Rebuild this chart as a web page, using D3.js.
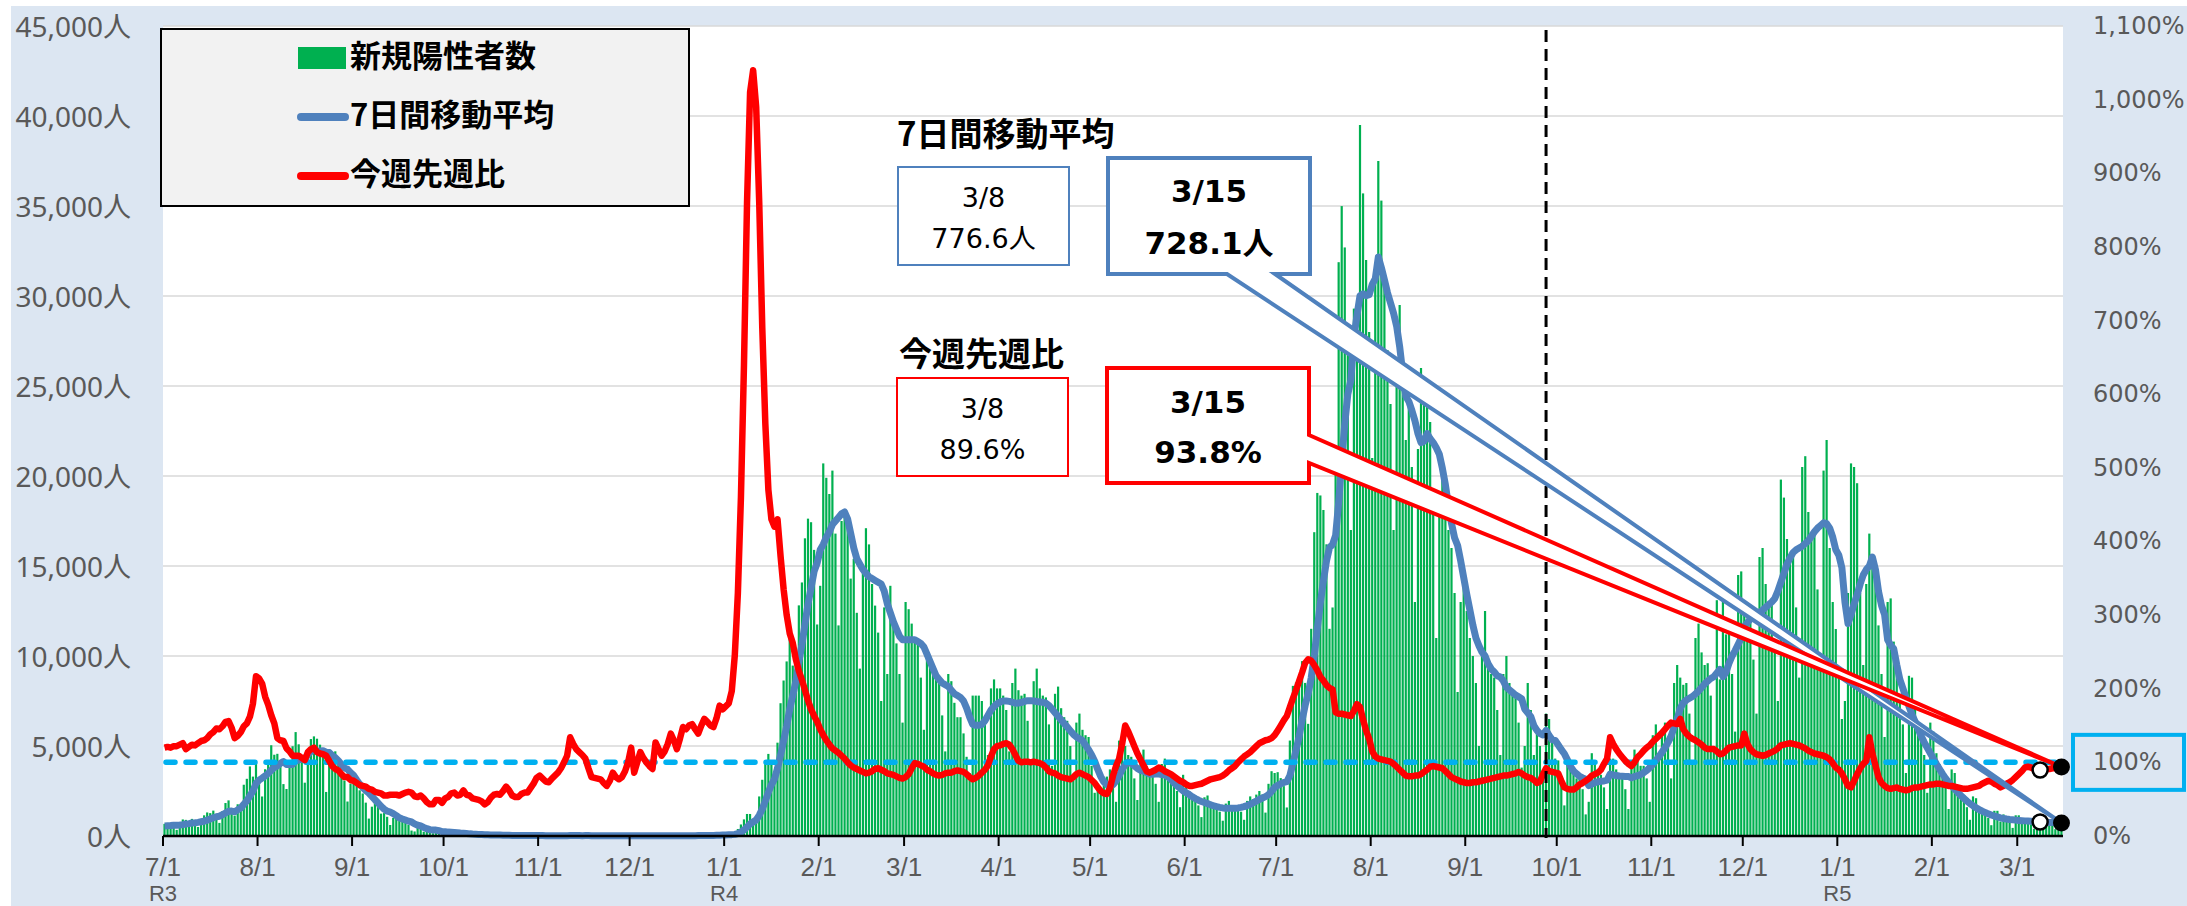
<!DOCTYPE html>
<html lang="ja">
<head>
<meta charset="utf-8">
<title>新規陽性者数・7日間移動平均・今週先週比</title>
<script src="https://cdn.jsdelivr.net/npm/d3@7"></script>
<style>
  html, body { margin: 0; padding: 0; background: #fff; }
  svg { display: block; }
</style>
</head>
<body>
<div id="chart"></div>
<script>
// one value per day, starting on startDay
const startDay = '2021-07-01';

const newCases = [
  // 2021-07
  673,660,716,518,342,593,920,896,822,950,614,502,830,1149,1308,1271,1410,1008,727,1387,1832,1979,1359,1128,1763,1429,2848,3177,3865,3300,4058,
  // 2021-08
  3058,2195,3709,4166,5042,4515,4566,4066,2884,2612,4200,4989,5773,5094,4295,2962,4377,5386,5534,5405,5074,4392,2447,4220,4228,4704,4227,3581,3081,1915,2909,
  // 2021-09
  3168,2913,2539,2362,1853,968,1629,1834,1675,1242,1273,1067,611,1004,1052,831,782,862,624,302,253,537,531,235,382,233,154,248,267,218,
  // 2021-10
  200,195,161,87,149,144,138,82,72,60,49,77,62,62,57,66,40,29,36,41,36,26,32,19,17,29,36,21,25,23,22,
  // 2021-11
  9,18,21,17,24,28,14,19,17,20,26,23,25,22,8,21,21,19,20,17,12,7,15,12,20,18,14,11,12,9,
  // 2021-12
  13,20,12,18,19,6,15,21,14,20,16,14,9,21,13,20,22,25,12,11,29,22,25,37,44,35,32,46,76,64,78,
  // 2022-01
  79,84,103,151,390,641,922,1224,1223,871,962,2198,3124,4051,4561,4172,3065,5185,7377,8638,9699,11227,9468,8503,12813,14086,16538,17631,17433,15895,11751,
  // 2022-02
  13900,20700,19900,19000,20300,16800,11700,17500,18100,17600,14300,15400,12400,9300,14900,17100,16200,14000,12800,11300,7500,12700,9000,13900,11800,10700,9000,6300,
  // 2022-03
  13000,12600,11800,10900,10700,8800,5900,10400,10000,9200,8800,8500,6700,4700,9000,8600,7400,6600,6600,5700,4400,3500,7800,7800,7800,7500,6500,4500,8200,8700,8200,
  // 2022-04
  8200,7800,7000,4700,8500,9300,8100,7800,7900,6400,4100,8600,9300,8200,7800,7700,6200,3900,7900,8300,7100,6600,6400,5000,3100,6300,6800,5900,5600,5500,
  // 2022-05
  3900,2400,2900,2500,3100,3300,3700,3100,1900,5300,5500,5000,4500,4400,3200,2000,4400,4800,3900,3600,3500,2900,1900,4000,4300,3600,3300,3300,2500,1600,3400,
  // 2022-06
  2900,2500,2250,2200,1700,1050,2150,2250,1900,1750,1700,1350,850,1800,1950,1700,1600,1650,1350,900,1950,2200,2050,2300,2500,2300,1300,2900,3600,3500,
  // 2022-07
  3546,3217,2771,1585,5302,8341,8529,8777,9716,8505,6231,11511,16878,19059,18919,18112,16205,11511,12696,20401,31878,34995,32698,27643,17000,29300,29000,39500,35700,32000,28000,
  // 2022-08
  21000,31500,37500,35300,31000,27000,24000,17000,26500,29500,25000,22000,25000,20500,13000,21500,26000,25500,25000,23000,19000,11000,19000,20500,19000,17000,16000,13500,8000,13000,14000,
  // 2022-09
  12500,11000,10000,8500,5000,10500,12500,9500,9000,8800,7000,4500,9000,10000,8500,8000,7800,6300,3800,5000,8500,7000,4500,6000,5000,3300,6800,6500,5300,4300,
  // 2022-10
  4200,3200,1700,4400,4000,3500,3200,3200,2600,1200,1900,4600,4000,3600,3400,2700,1500,4300,4300,3700,3400,3300,2600,1500,4000,4800,4200,3900,3900,3200,1900,
  // 2022-11
  5600,6200,4400,5900,6300,5200,3200,8500,9500,8800,8400,8500,6800,4000,11000,11800,10200,9500,9600,7800,4800,13100,8700,13400,11200,11500,9000,5800,14500,14700,
  // 2022-12
  12800,11800,12000,9800,6800,15500,16000,14000,12900,13000,10500,7500,19800,18800,16500,15400,15700,12700,8800,20500,21100,18000,16600,16900,13700,9500,20300,22000,16000,13000,11500,
  // 2023-01
  9000,6500,7500,13500,20700,20500,19600,13500,9500,14000,16800,15500,14000,11700,9000,5500,13000,13200,10800,9000,7900,6200,3500,8900,8800,7100,6300,5700,4500,2400,6300,
  // 2023-02
  5800,4600,4000,3700,2800,1500,3700,3500,2700,2300,2000,1600,900,2200,2100,1600,1400,1300,1000,600,1400,1400,800,1200,1100,800,450,1150,
  // 2023-03
  1150,950,900,850,650,400,1000,1050,850,800,800,620,380,900,950
];

const avg7 = [
  // 2021-07
  562,570,580,598,601,613,632,664,687,720,734,757,791,823,882,946,1012,1068,1100,1180,1278,1373,1386,1346,1454,1554,1763,1955,2224,2501,2920,
  // 2021-08
  3105,3214,3337,3479,3647,3820,3893,4037,4135,3979,3984,3976,4156,4231,4264,4275,4527,4697,4774,4722,4719,4733,4659,4637,4471,4353,4185,3971,3784,3708,3521,
  // 2021-09
  3369,3113,2872,2698,2523,2387,2205,2014,1837,1652,1496,1384,1333,1244,1132,1011,946,887,824,780,672,599,556,478,409,353,332,331,293,248,
  // 2021-10
  243,216,206,197,182,165,153,137,119,105,99,89,77,66,63,62,59,56,50,47,44,39,34,31,30,29,28,26,26,24,25,
  // 2021-11
  24,22,20,19,19,20,19,20,20,20,21,21,21,22,20,21,21,20,19,18,17,17,16,15,15,14,14,14,15,14,
  // 2021-12
  14,14,13,14,15,14,15,16,15,16,16,15,16,16,15,16,16,18,17,18,19,20,21,23,26,29,32,34,42,48,54,
  // 2022-01
  59,66,76,91,136,218,339,502,665,775,890,1149,1503,1950,2427,2848,3162,3765,4505,5293,6100,7052,7808,8585,9675,10633,11762,12895,13782,14700,15164,
  // 2022-02
  15900,16200,16600,16900,17300,17500,17700,17900,18000,17600,16800,16000,15400,15100,14800,14600,14400,14300,14200,14100,14000,13600,12900,12400,11900,11500,11100,10900,
  // 2022-03
  10900,10900,10900,10900,10800,10700,10500,10100,9700,9300,8900,8700,8500,8400,8300,8100,7900,7800,7700,7500,7100,6600,6200,6150,6150,6200,6400,6700,7000,7200,7350,
  // 2022-04
  7450,7500,7500,7480,7430,7380,7390,7420,7480,7520,7520,7500,7470,7450,7430,7380,7250,7050,6850,6650,6450,6250,6050,5850,5650,5500,5400,5300,5050,4800,
  // 2022-05
  4500,4150,3700,3300,3000,2850,2820,2850,3050,3350,3700,3950,4100,4050,3900,3750,3650,3600,3520,3450,3430,3440,3440,3420,3380,3300,3150,2950,2800,2650,2500,
  // 2022-06
  2400,2300,2180,2080,1990,1920,1860,1800,1730,1680,1630,1590,1560,1545,1540,1535,1540,1560,1590,1630,1690,1760,1850,1940,2030,2110,2190,2300,2480,2700,
  // 2022-07
  2807,2909,2976,3017,3360,4037,4756,5503,6432,7251,7914,8801,10021,11525,12974,14174,15274,16028,16197,16700,18532,20828,22912,24546,25330,27702,28931,30019,30120,30020,30071,
  // 2022-08
  30643,30957,32171,31571,30900,30186,29614,29043,28329,27186,25714,24429,24143,23643,23071,22357,21857,21929,22357,22071,21857,21571,21214,20429,19500,18357,17357,16571,16143,15286,14357,
  // 2022-09
  13429,12571,11714,11000,10571,10214,10000,9571,9286,9114,8900,8829,8614,8257,8114,7971,7829,7729,7629,7057,6843,6629,6129,5871,5686,5614,5871,5586,5343,5314,
  // 2022-10
  5057,4800,4571,4229,3871,3614,3457,3314,3229,3157,2800,2886,2957,3014,3043,3057,3100,3443,3400,3357,3329,3314,3300,3300,3229,3300,3350,3420,3520,3640,3800,
  // 2022-11
  3980,4200,4400,4650,4900,5200,5550,6050,6500,7100,7400,7550,7650,7750,7900,8050,8250,8450,8600,8750,8850,9050,9250,8850,9100,9600,10000,10300,10650,11000,
  // 2022-12
  11650,11850,12050,12200,12300,12400,12550,12700,12850,13000,13200,13600,14100,14600,15100,15450,15750,15900,16000,16100,16250,16400,16650,16900,17100,17250,17400,17350,17100,16600,15900,
  // 2023-01
  15600,14900,13000,11800,12300,12900,13400,14000,14500,14800,15000,15500,14800,13600,12800,12300,10900,10600,10400,9500,8700,8200,7700,7200,6750,6350,5950,5550,5200,4900,4600,
  // 2023-02
  4300,4000,3720,3450,3200,2980,2780,2600,2420,2250,2090,1940,1800,1680,1570,1470,1380,1300,1230,1170,1110,1060,1010,975,945,920,900,882,
  // 2023-03
  867,852,840,828,815,800,788,776.6,770,762,755,748,741,735,728.1
];

// this week / last week, %
const weekRatio = [
  // 2021-07
  120,121,120,122,122,124,126,118,121,124,123,126,129,130,133,138,141,146,145,149,155,156,147,133,136,141,149,153,162,180,217,
  // 2021-08
  214,207,189,178,164,153,133,130,129,119,115,109,109,109,106,103,114,118,120,114,112,111,109,102,95,91,89,84,80,80,76,
  // 2021-09
  75,72,69,68,67,64,63,60,59,58,55,55,56,56,56,55,57,59,60,59,54,53,55,51,46,43,43,49,49,45,
  // 2021-10
  51,53,58,59,55,56,62,56,55,51,50,49,47,43,46,52,56,57,56,61,67,62,55,53,53,57,59,59,65,71,79,
  // 2021-11
  82,78,74,73,78,82,86,92,100,109,134,125,118,114,110,105,92,80,79,78,77,72,68,75,86,80,77,80,88,100,
  // 2021-12
  120,86,100,114,106,100,95,91,127,118,109,115,125,139,130,118,132,148,145,150,152,145,139,150,159,155,150,148,160,177,172,
  // 2022-01
  176,180,197,246,330,460,640,860,1010,1040,990,860,690,560,470,430,420,430,380,335,300,275,262,240,224,212,198,184,172,163,155,
  // 2022-02
  145,137,130,124,119,116,113,109,105,100,96,93,91,89,87,85,86,88,91,92,90,88,85,84,83,81,79,78,
  // 2022-03
  80,84,92,99,98,96,94,90,88,85,83,82,83,85,86,86,88,89,88,87,84,80,77,79,82,86,90,96,108,118,122,
  // 2022-04
  123,125,126,124,118,110,102,100,101,101,100,101,100,99,97,93,88,86,85,82,80,79,78,77,80,84,86,84,82,80,
  // 2022-05
  76,72,66,61,58,57,65,82,95,105,125,150,142,132,122,112,104,96,88,86,88,90,93,91,88,86,84,81,78,75,73,
  // 2022-06
  70,68,68,69,70,71,73,75,77,78,79,80,82,85,89,92,95,100,104,108,111,114,118,122,126,128,130,131,133,137,
  // 2022-07
  143,150,157,163,175,187,198,210,222,235,240,238,232,225,216,211,205,201,199,168,166,166,165,164,163,170,179,175,158,143,132,
  // 2022-08
  115,108,105,104,103,102,101,98,94,90,86,82,81,81,82,82,84,87,90,94,95,94,93,92,88,84,80,78,76,74,73,
  // 2022-09
  72,72,73,73,74,75,76,77,78,79,80,81,82,82,83,84,85,87,85,82,80,79,76,72,74,84,92,88,87,86,
  // 2022-10
  85,75,66,64,63,63,66,70,72,75,78,82,84,86,90,98,105,134,125,118,112,107,102,98,95,100,107,111,116,120,123,
  // 2022-11
  128,132,136,140,145,150,154,153,152,159,145,139,135,132,130,127,124,120,118,118,118,115,111,112,116,120,121,122,123,123,
  // 2022-12
  139,125,118,114,111,110,109,110,112,114,116,119,123,124,125,126,125,124,123,121,119,116,114,112,111,110,109,107,104,99,93,
  // 2023-01
  90,85,77,68,66,75,84,92,98,102,134,112,96,80,72,68,65,64,65,66,64,63,62,63,65,66,66,67,68,69,70,
  // 2023-02
  70,71,71,70,69,68,68,67,66,65,64,64,65,66,67,68,71,73,75,74,71,69,66,68,71,73,76,80,
  // 2023-03
  84,88,93,94,93,91,90,89.6,90,91,91,92,92,93,93.8
];

const caseTicks = [0, 5000, 10000, 15000, 20000, 25000, 30000, 35000, 40000, 45000];
const ratioTicks = [0, 100, 200, 300, 400, 500, 600, 700, 800, 900, 1000, 1100];
const monthTicks = ['2021-07-01','2021-08-01','2021-09-01','2021-10-01','2021-11-01','2021-12-01',
  '2022-01-01','2022-02-01','2022-03-01','2022-04-01','2022-05-01','2022-06-01','2022-07-01',
  '2022-08-01','2022-09-01','2022-10-01','2022-11-01','2022-12-01','2023-01-01','2023-02-01','2023-03-01'];
const eraLabels = [['2021-07-01', 'R3'], ['2022-01-01', 'R4'], ['2023-01-01', 'R5']];
const cutoverDay = '2022-09-27';

const prevDay = '2023-03-08', prevLabel = '3/8';
const lastLabel = '3/15';
const legendItems = ['新規陽性者数', '7日間移動平均', '今週先週比'];

(() => {
  const W = 2187, H = 906;
  const BLUE = '#4f81bd', RED = '#ff0000', GREEN = '#00b050', SKY = '#00b0f0', GREY = '#595959';
  const latin = "'Noto Sans', 'Noto Sans CJK JP', sans-serif";
  const arial = "'Liberation Sans', 'Noto Sans', sans-serif";
  const meiryo = "'DejaVu Sans', 'Noto Sans CJK JP', sans-serif";
  const cjk = "'Noto Sans CJK JP', sans-serif";

  const parse = d3.utcParse('%Y-%m-%d');
  const t0 = parse(startDay);
  const days = newCases.map((v, i) => ({
    date: d3.utcDay.offset(t0, i), cases: v, avg: avg7[i], ratio: weekRatio[i]
  }));

  const x = d3.scaleUtc()
    .domain([t0, d3.utcDay.offset(t0, days.length)])
    .range([163, 2063]);
  const yL = d3.scaleLinear().domain([0, 45000]).range([836, 26]);
  const yR = d3.scaleLinear().domain([0, 1100]).range([836, 26]);
  const band = x(d3.utcDay.offset(t0, 1)) - x(t0);
  const cx = d => x(d.date) + band / 2;

  const [x0, x1] = x.range();
  const [yBot, yTop] = yL.range();

  const svg = d3.select('#chart').append('svg')
    .attr('width', W).attr('height', H)
    .attr('viewBox', `0 0 ${W} ${H}`);

  svg.append('rect').attr('x', 11).attr('y', 6)
    .attr('width', W - 11).attr('height', H - 6).attr('fill', '#dce6f2');
  svg.append('rect').attr('x', x0).attr('y', yTop)
    .attr('width', x1 - x0).attr('height', yBot - yTop).attr('fill', '#fff');

  // gridlines (left axis)
  svg.append('g').selectAll('line')
    .data(caseTicks.filter(v => v > 0))
    .join('line')
    .attr('x1', x0).attr('x2', x1)
    .attr('y1', d => yL(d)).attr('y2', d => yL(d))
    .attr('stroke', '#d9d9d9').attr('stroke-width', 1.5);

  // bars
  svg.append('g').selectAll('rect')
    .data(days)
    .join('rect')
    .attr('x', d => x(d.date) + 0.4)
    .attr('width', band - 0.85)
    .attr('y', d => yL(d.cases))
    .attr('height', d => yBot - yL(d.cases))
    .attr('fill', GREEN);

  // 7-day average
  svg.append('path')
    .datum(days)
    .attr('fill', 'none')
    .attr('stroke', BLUE)
    .attr('stroke-width', 7)
    .attr('stroke-linejoin', 'round')
    .attr('d', d3.line().x(cx).y(d => yL(d.avg)));

  // 100% reference
  const last = days[days.length - 1];
  svg.append('line')
    .attr('x1', x0 + 3).attr('x2', cx(last))
    .attr('y1', yR(100)).attr('y2', yR(100))
    .attr('stroke', SKY).attr('stroke-width', 5.5)
    .attr('stroke-linecap', 'round')
    .attr('stroke-dasharray', '9 11');

  // week-over-week ratio
  svg.append('path')
    .datum(days)
    .attr('fill', 'none')
    .attr('stroke', RED)
    .attr('stroke-width', 6.5)
    .attr('stroke-linejoin', 'round')
    .attr('d', d3.line().x(cx).y(d => yR(d.ratio)));

  // notification change marker
  const cut = x(parse(cutoverDay)) + band / 2;
  svg.append('line')
    .attr('x1', cut).attr('x2', cut)
    .attr('y1', yTop + 4).attr('y2', yBot + 2)
    .attr('stroke', '#000').attr('stroke-width', 3)
    .attr('stroke-dasharray', '12 7');

  // x axis
  svg.append('line')
    .attr('x1', x0).attr('x2', x1).attr('y1', yBot).attr('y2', yBot)
    .attr('stroke', '#000').attr('stroke-width', 2.5);
  const ticks = monthTicks.map(parse);
  svg.append('g').selectAll('line')
    .data(ticks)
    .join('line')
    .attr('x1', d => x(d)).attr('x2', d => x(d))
    .attr('y1', yBot).attr('y2', yBot + 10)
    .attr('stroke', '#000').attr('stroke-width', 2);
  const fmtTick = d3.utcFormat('%-m/%-d');
  svg.append('g').selectAll('text')
    .data(ticks)
    .join('text')
    .attr('x', d => x(d)).attr('y', 875.5)
    .attr('text-anchor', 'middle')
    .attr('font-family', arial).attr('font-size', 26).attr('fill', GREY)
    .text(fmtTick);
  svg.append('g').selectAll('text')
    .data(eraLabels)
    .join('text')
    .attr('x', d => x(parse(d[0]))).attr('y', 901)
    .attr('text-anchor', 'middle')
    .attr('font-family', arial).attr('font-size', 22).attr('fill', GREY)
    .text(d => d[1]);

  // left axis labels
  svg.append('g').selectAll('text')
    .data(caseTicks)
    .join('text')
    .attr('x', 131).attr('y', d => yL(d))
    .attr('text-anchor', 'end')
    .attr('dominant-baseline', 'central')
    .attr('font-family', latin).attr('font-size', 28).attr('fill', GREY)
    .text(d => d3.format(',')(d) + '人');

  // right axis labels
  svg.append('g').selectAll('text')
    .data(ratioTicks)
    .join('text')
    .attr('x', 2093).attr('y', d => yR(d))
    .attr('dominant-baseline', 'central')
    .attr('font-family', meiryo).attr('font-size', 24).attr('fill', GREY)
    .text(d => d3.format(',')(d) + '%');
  svg.append('rect')
    .attr('x', 2073).attr('y', yR(100) - 27.5)
    .attr('width', 111).attr('height', 55)
    .attr('fill', 'none').attr('stroke', SKY).attr('stroke-width', 4);

  // legend
  const lg = svg.append('g');
  lg.append('rect')
    .attr('x', 161).attr('y', 29).attr('width', 528).attr('height', 177)
    .attr('fill', '#f2f2f2').attr('stroke', '#000').attr('stroke-width', 2);
  lg.append('rect').attr('x', 298).attr('y', 47).attr('width', 48).attr('height', 22).attr('fill', GREEN);
  [[BLUE, 117], [RED, 176]].forEach(([c, y]) => {
    lg.append('line').attr('x1', 301).attr('x2', 345).attr('y1', y).attr('y2', y)
      .attr('stroke', c).attr('stroke-width', 8).attr('stroke-linecap', 'round');
  });
  [53, 112, 171].forEach((y, i) => {
    lg.append('text').attr('x', 350).attr('y', y)
      .attr('dominant-baseline', 'central')
      .attr('font-family', cjk).attr('font-weight', 700).attr('font-size', 31)
      .attr('fill', '#000')
      .text(legendItems[i]);
  });

  // annotations
  const iPrev = d3.utcDay.count(t0, parse(prevDay));
  const prev = days[iPrev];
  const fmt1 = d3.format('.1f');

  const ann = svg.append('g');
  ann.append('text').attr('x', 897).attr('y', 132)
    .attr('dominant-baseline', 'central')
    .attr('font-family', cjk).attr('font-weight', 700).attr('font-size', 33)
    .text(legendItems[1]);
  ann.append('text').attr('x', 899).attr('y', 352)
    .attr('dominant-baseline', 'central')
    .attr('font-family', cjk).attr('font-weight', 700).attr('font-size', 33)
    .text(legendItems[2]);

  function smallBox(bx, by, color, lines) {
    ann.append('rect').attr('x', bx).attr('y', by).attr('width', 171).attr('height', 98)
      .attr('fill', '#fff').attr('stroke', color).attr('stroke-width', 2);
    lines.forEach((t, k) => {
      ann.append('text').attr('x', bx + 85.5).attr('y', by + 30 + k * 41)
        .attr('text-anchor', 'middle').attr('dominant-baseline', 'central')
        .attr('font-family', meiryo).attr('font-size', 27).attr('fill', '#000')
        .text(t);
    });
  }
  smallBox(898, 167, BLUE, [prevLabel, fmt1(prev.avg) + '人']);
  smallBox(897, 378, RED, [prevLabel, fmt1(prev.ratio) + '%']);

  // callouts pointing at the latest values
  const tipB = [cx(last), yL(last.avg)];
  const tipR = [cx(last), yR(last.ratio)];
  ann.append('path')
    .attr('d', `M1108,158H1310V274H1275L${tipB[0]},${tipB[1]}L1227,274H1108Z`)
    .attr('fill', '#fff').attr('stroke', BLUE).attr('stroke-width', 4)
    .attr('stroke-linejoin', 'miter');
  ann.append('path')
    .attr('d', `M1107,368H1309V435L${tipR[0]},${tipR[1]}L1309,463V483H1107Z`)
    .attr('fill', '#fff').attr('stroke', RED).attr('stroke-width', 4)
    .attr('stroke-linejoin', 'miter');
  [[1209, 191, lastLabel], [1209, 243, fmt1(last.avg) + '人'],
   [1208, 402, lastLabel], [1208, 452, fmt1(last.ratio) + '%']].forEach(([tx, ty, t]) => {
    ann.append('text').attr('x', tx).attr('y', ty)
      .attr('text-anchor', 'middle').attr('dominant-baseline', 'central')
      .attr('font-family', meiryo).attr('font-weight', 700).attr('font-size', 31)
      .attr('fill', '#000')
      .text(t);
  });

  // markers: previous week (open), latest (filled)
  const mk = svg.append('g');
  [d => yL(d.avg), d => yR(d.ratio)].forEach(fy => {
    mk.append('circle').attr('cx', cx(prev)).attr('cy', fy(prev)).attr('r', 7.5)
      .attr('fill', '#fff').attr('stroke', '#000').attr('stroke-width', 2.5);
    mk.append('circle').attr('cx', cx(last)).attr('cy', fy(last)).attr('r', 8.5)
      .attr('fill', '#000');
  });
})();
</script>
</body>
</html>
